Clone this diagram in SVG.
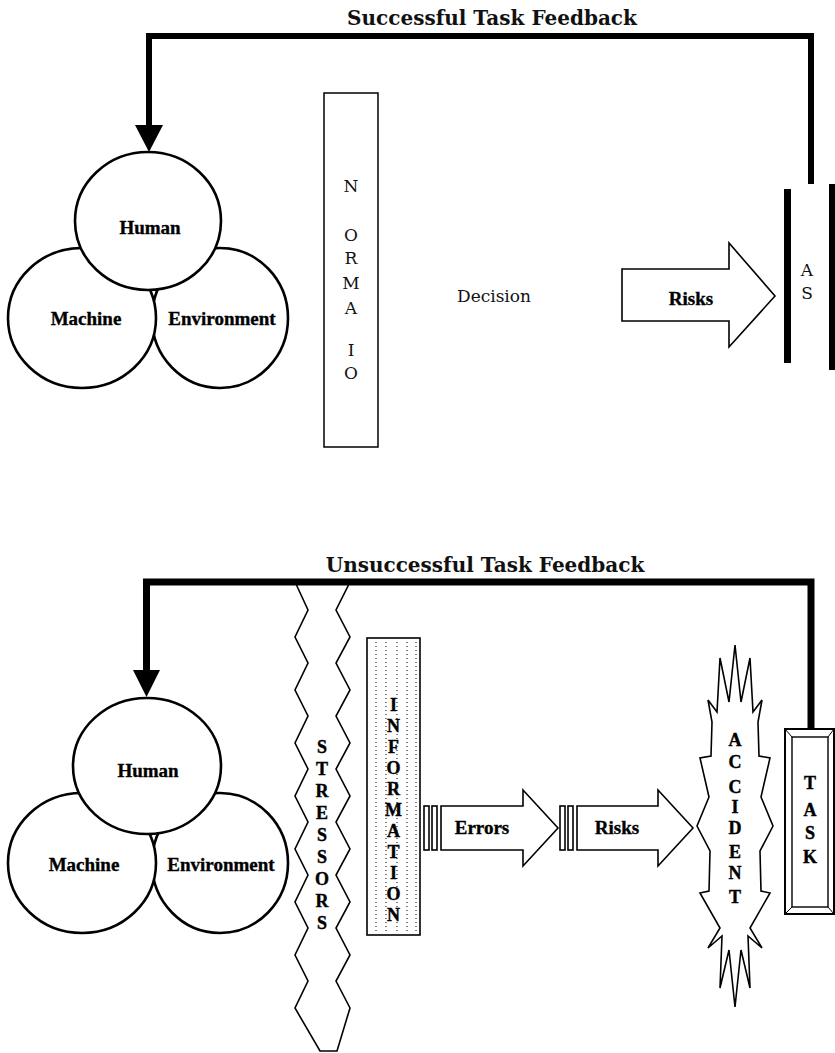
<svg xmlns="http://www.w3.org/2000/svg" width="835" height="1053" viewBox="0 0 835 1053">
  <style>
    .title { font-family: "DejaVu Serif", "Liberation Serif", serif; font-weight: bold; font-size: 20px; fill: #111; text-anchor: middle; }
    .lbl { font-family: "Liberation Serif", serif; font-weight: bold; font-size: 19px; fill: #000; stroke: #000; stroke-width: 0.35; text-anchor: middle; }
    .plain { font-family: "DejaVu Serif", "Liberation Serif", serif; font-size: 17px; fill: #111; text-anchor: middle; }
    .col { font-family: "Liberation Serif", serif; font-weight: bold; font-size: 18px; fill: #000; stroke: #000; stroke-width: 0.4; text-anchor: middle; }
    .ring { fill: #fff; stroke: #000; stroke-width: 2.6; }
    .feed { fill: none; stroke: #000; stroke-linejoin: miter; stroke-linecap: butt; }
    .head { fill: #000; }
    .outline { fill: #fff; stroke: #000; stroke-width: 1.6; stroke-linejoin: miter; }
    .bar { fill: #000; }
    .dots { stroke: #000; stroke-width: 1; stroke-dasharray: 1 3; }
  </style>

  <!-- ===== Upper model: successful task ===== -->
  <text class="title" x="492" y="25">Successful Task Feedback</text>

  <g id="top-environment">
    <ellipse class="ring" cx="220" cy="318" rx="68" ry="70"/>
    <text class="lbl" x="222" y="325">Environment</text>
  </g>
  <g id="top-machine">
    <ellipse class="ring" cx="82" cy="318" rx="74" ry="70"/>
    <text class="lbl" x="86" y="325">Machine</text>
  </g>
  <g id="top-human">
    <ellipse class="ring" cx="148" cy="221" rx="73" ry="69"/>
    <text class="lbl" x="150" y="234">Human</text>
  </g>

  <g id="top-information">
    <rect x="324" y="93" width="54" height="354" fill="#fff" stroke="#000" stroke-width="1.5"/>
    <text class="plain" x="351" y="192">N</text>
    <text class="plain" x="351" y="241">O</text>
    <text class="plain" x="351" y="264">R</text>
    <text class="plain" x="351" y="289">M</text>
    <text class="plain" x="351" y="314">A</text>
    <text class="plain" x="351" y="356">I</text>
    <text class="plain" x="351" y="379">O</text>
  </g>

  <g id="top-decision">
    <text class="plain" x="494" y="302">Decision</text>
  </g>

  <g id="top-risks">
    <polygon class="outline" points="622,269 729,269 729,243 775,296 729,347 729,321 622,321"/>
    <text class="lbl" x="691" y="305" font-size="21">Risks</text>
  </g>

  <g id="top-task">
    <rect class="bar" x="784" y="189" width="7" height="174"/>
    <rect class="bar" x="829" y="184" width="6" height="186"/>
    <text class="plain" x="807" y="276">A</text>
    <text class="plain" x="807" y="299">S</text>
  </g>

  <!-- ===== Lower model: unsuccessful task ===== -->
  <text class="title" x="485" y="572">Unsuccessful Task Feedback</text>

  <g id="bottom-environment">
    <ellipse class="ring" cx="220" cy="863" rx="68" ry="70"/>
    <text class="lbl" x="221" y="871">Environment</text>
  </g>
  <g id="bottom-machine">
    <ellipse class="ring" cx="82" cy="863" rx="74" ry="70"/>
    <text class="lbl" x="84" y="871">Machine</text>
  </g>
  <g id="bottom-human">
    <ellipse class="ring" cx="147" cy="766" rx="74" ry="68"/>
    <text class="lbl" x="148" y="777">Human</text>
  </g>

  <g id="bottom-stressors">
    <polygon class="outline" points="296,584 308,610 295,637 308,663 295,690 308,716 295,743 308,769 295,796 308,822 295,849 308,875 295,902 308,928 295,955 308,981 295,1008 320,1051 337,1051 350,1008 336,981 350,955 336,928 350,902 336,875 350,849 336,822 350,796 336,769 350,743 336,716 350,690 336,663 350,637 336,610 349,584"/>
    <text class="col" x="322" y="753">S</text>
    <text class="col" x="322" y="775">T</text>
    <text class="col" x="322" y="797">R</text>
    <text class="col" x="322" y="819">E</text>
    <text class="col" x="322" y="841">S</text>
    <text class="col" x="322" y="863">S</text>
    <text class="col" x="322" y="885">O</text>
    <text class="col" x="322" y="907">R</text>
    <text class="col" x="322" y="929">S</text>
  </g>

  <g id="bottom-information">
    <rect x="367" y="638" width="53" height="297" fill="#fff" stroke="#000" stroke-width="1.6"/>
    <line class="dots" x1="376" y1="642" x2="376" y2="931"/>
    <line class="dots" x1="386" y1="642" x2="386" y2="931"/>
    <line class="dots" x1="397" y1="642" x2="397" y2="931"/>
    <line class="dots" x1="407" y1="642" x2="407" y2="931"/>
    <line class="dots" x1="416" y1="642" x2="416" y2="931"/>
    <text class="col" x="393.5" y="711">I</text>
    <text class="col" x="393.5" y="732">N</text>
    <text class="col" x="393.5" y="753">F</text>
    <text class="col" x="393.5" y="774">O</text>
    <text class="col" x="393.5" y="795">R</text>
    <text class="col" x="393.5" y="816">M</text>
    <text class="col" x="393.5" y="837">A</text>
    <text class="col" x="393.5" y="858">T</text>
    <text class="col" x="393.5" y="879">I</text>
    <text class="col" x="393.5" y="900">O</text>
    <text class="col" x="393.5" y="921">N</text>
  </g>

  <g id="bottom-errors">
    <rect class="outline" x="424" y="806" width="5" height="44"/>
    <rect class="outline" x="432" y="806" width="5" height="44"/>
    <polygon class="outline" points="441,806 523,806 523,790 558,828 523,866 523,850 441,850"/>
    <text class="lbl" x="482" y="834" font-size="18">Errors</text>
  </g>

  <g id="bottom-risks">
    <rect class="outline" x="560" y="806" width="5" height="44"/>
    <rect class="outline" x="568" y="806" width="5" height="44"/>
    <polygon class="outline" points="577,806 658,806 658,790 693,828 658,866 658,850 577,850"/>
    <text class="lbl" x="617" y="834" font-size="18">Risks</text>
  </g>

  <g id="bottom-accident">
    <polygon class="outline" points="735,645 741,702 750,658 753,712 762,700 758,722 759,756 770,758 761,797 773,826 760,851 761,891 770,893 750,928 762,948 748,936 750,988 741,950 735,1007 729,950 720,988 722,936 708,948 720,928 700,893 709,891 710,851 697,826 709,797 700,758 711,756 712,722 708,700 717,712 720,658 729,702"/>
    <text class="col" x="735" y="746">A</text>
    <text class="col" x="735" y="768">C</text>
    <text class="col" x="735" y="793">C</text>
    <text class="col" x="735" y="813">I</text>
    <text class="col" x="735" y="834">D</text>
    <text class="col" x="735" y="858">E</text>
    <text class="col" x="735" y="879">N</text>
    <text class="col" x="735" y="903">T</text>
  </g>

  <g id="bottom-task">
    <rect x="785" y="729" width="49" height="185" fill="#fff" stroke="#000" stroke-width="2"/>
    <rect x="792" y="737" width="36" height="170" fill="#fff" stroke="#000" stroke-width="1.4"/>
    <line x1="785" y1="729" x2="792" y2="737" stroke="#000" stroke-width="1"/>
    <line x1="834" y1="729" x2="828" y2="737" stroke="#000" stroke-width="1"/>
    <line x1="785" y1="914" x2="792" y2="907" stroke="#000" stroke-width="1"/>
    <line x1="834" y1="914" x2="828" y2="907" stroke="#000" stroke-width="1"/>
    <text class="col" x="810" y="789">T</text>
    <text class="col" x="810" y="816">A</text>
    <text class="col" x="810" y="839">S</text>
    <text class="col" x="810" y="863">K</text>
  </g>

  <!-- ===== Feedback connectors ===== -->
  <g id="connectors">
    <path class="feed" stroke-width="6" d="M811,184 V36 H149 V126"/>
    <polygon class="head" points="135,125 163,125 149,152"/>
    <path class="feed" stroke-width="7" d="M811,729 V582 H146.5 V671"/>
    <polygon class="head" points="133,670 160,670 146.5,697"/>
  </g>
</svg>
